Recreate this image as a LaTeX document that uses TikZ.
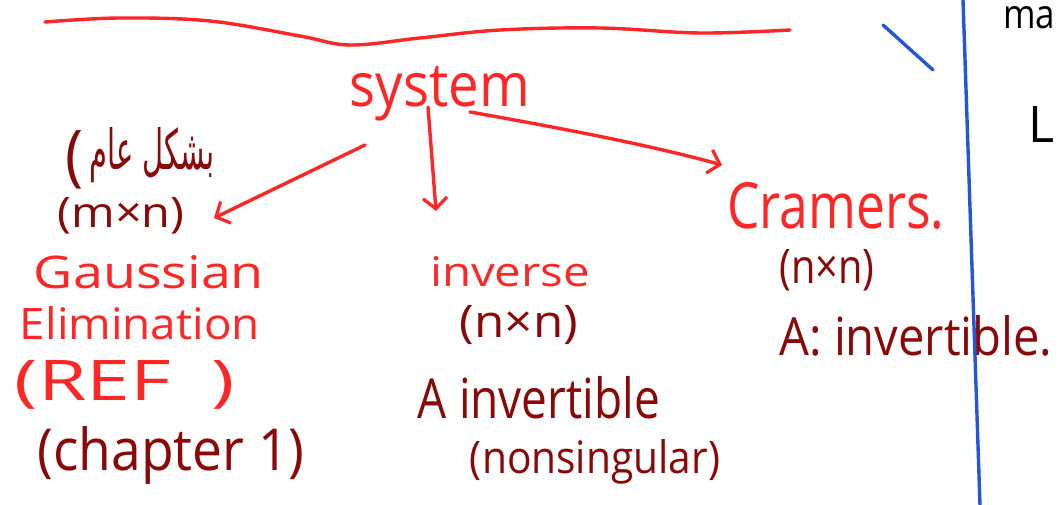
\documentclass[tikz,border=0pt]{standalone}
\usepackage{fontspec}
\setmainfont{Open Sans}
\newfontfamily\arabicfont[Script=Arabic]{DejaVu Sans}
\TeXXeTstate=1
\usetikzlibrary{arrows.meta}
\definecolor{ink}{HTML}{FF2626}
\definecolor{deep}{HTML}{8A0808}
\definecolor{pen}{HTML}{2457D6}
% scale a piece of text to a given width and height (in pt)
\newcommand{\fitwh}[3]{\resizebox{#1pt}{#2pt}{#3}}
\begin{document}
\begin{tikzpicture}[x=1pt,y=-1pt,
  every node/.style={inner sep=0pt, anchor=center},
  redtxt/.style={text=ink},
  deeptxt/.style={text=deep},
  blacktxt/.style={text=black},
  redline/.style={draw=ink, line width=3.4pt, line cap=round, line join=round},
  blueline/.style={draw=pen, line width=3.4pt, line cap=round},
  arr/.style={redline, -{Straight Barb[length=11pt, width=24pt, line width=3.2pt]}}]
\useasboundingbox (0,0) rectangle (1059,505);
\fill[white] (0,0) rectangle (1059,505);

% wavy underline along the top
\draw[redline] plot[smooth, tension=0.6] coordinates
  {(45,22) (120,18) (210,21) (300,36) (350,45) (420,38) (500,30) (600,28) (700,33) (790,30)};

% main heading
\node[redtxt] (sys) at (440,94) {\fitwh{180}{40}{system}};

% left column
\node[deeptxt] (lp) at (74,160) {\fitwh{18}{48}{(}};
\node[deeptxt] (gen) at (152,155) {\fitwh{125}{42}{\arabicfont\beginR بشكل عام\endR}};
\node[deeptxt] (mn) at (121,216) {\fitwh{127}{30}{(m×n)}};
\node[redtxt] (gauss) at (149,272) {\fitwh{230}{33}{Gaussian}};
\node[redtxt] (elim) at (140,323) {\fitwh{240}{33}{Elimination}};
\node[redtxt] (ref) at (125,385) {\fitwh{220}{40}{(REF\ \ )}};
\node[deeptxt] (chap) at (171,455) {\fitwh{267}{44}{(chapter 1)}};

% middle column
\node[redtxt] (inv) at (510,272) {\fitwh{160}{30}{inverse}};
\node[deeptxt] (nn1) at (519,325) {\fitwh{118}{32}{(n×n)}};
\node[deeptxt] (ainv) at (539,398) {\fitwh{242}{42}{A invertible}};
\node[deeptxt] (nons) at (595,462) {\fitwh{250}{34}{(nonsingular)}};

% right column
\node[redtxt] (cram) at (836,206) {\fitwh{217}{46}{Cramers.}};
\node[deeptxt] (nn2) at (827,270) {\fitwh{95}{34}{(n×n)}};
\node[deeptxt] (ainv2) at (916,336) {\fitwh{273}{40}{A: invertible.}};

% arrows from the heading to the three methods
\coordinate (s1) at (365,145);
\coordinate (e1) at (214,218);
\coordinate (s2) at (428,107);
\coordinate (e2) at (436,211);
\coordinate (s3) at (470,112);
\coordinate (e3) at (722,165);
\draw[arr] (s1) -- (e1);
\draw[arr] (s2) -- (e2);
\draw[arr] (s3) .. controls (560,128) and (650,145) .. (e3);

% blue margin strokes
\coordinate (b1) at (963,0);
\coordinate (b2) at (980,505);
\draw[blueline] (b1) -- (b2);
\coordinate (c1) at (883,25);
\coordinate (c2) at (933,70);
\draw[blueline] (c1) -- (c2);

% notes at the right edge
\node[blacktxt, anchor=west] (ma) at (1003,18) {\fitwh{52}{22}{ma}};
\node[blacktxt, anchor=west] (ll) at (1028,124) {\fitwh{26}{36}{L}};
\end{tikzpicture}
\end{document}
